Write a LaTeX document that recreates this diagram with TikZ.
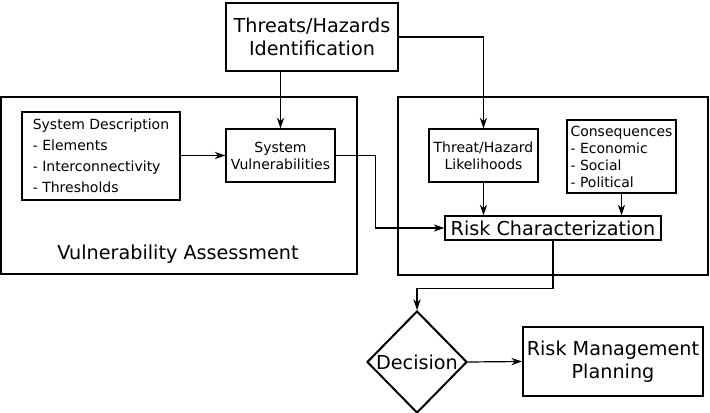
\documentclass[tikz,border=0pt]{standalone}
\usepackage{fontspec}
\setmainfont{DejaVu Sans}
\usetikzlibrary{arrows.meta,shapes.geometric,calc}

\begin{document}
\begin{tikzpicture}[x=0.75pt,y=-0.75pt,
big/.style={font=\fontsize{14.4}{17}\selectfont},
small/.style={font=\fontsize{10.5}{12.75}\selectfont},
box/.style={draw,line width=1pt,small,inner sep=0pt,align=center},
thick box/.style={draw,line width=1.7pt,big,inner sep=0pt,align=center},
arr/.style={line width=0.9pt,-{Stealth[length=8pt,width=5.5pt]}}]
\useasboundingbox (0,0) rectangle (710,413);

\node[thick box,minimum width=267pt,minimum height=132.75pt] (va) at (179,185.5) {};
\node[thick box,minimum width=232.5pt,minimum height=133.5pt] (ra) at (553,186) {};
\node[big] (valabel) at (178,254) {Vulnerability Assessment};

\node[thick box,line width=1.5pt,minimum width=129pt,minimum height=51pt] (threats) at (312,37) {Threats/Hazards\\Identification};

\node[box,align=left,font=\fontsize{10.5}{15.75}\selectfont,minimum width=118.5pt,minimum height=66pt] (sysdesc) at (101,156)
 {System Description\\- Elements\\- Interconnectivity\\- Thresholds};
\node[box,minimum width=81.75pt,minimum height=39.75pt] (sysvul) at (280.5,155.5) {System\\Vulnerabilities};
\node[box,minimum width=81.75pt,minimum height=39.75pt] (lik) at (483.5,155.5) {Threat/Hazard\\Likelihoods};
\node[box,align=left,minimum width=81.75pt,minimum height=54.75pt] (cons) at (621.5,156.5)
 {Consequences\\- Economic\\- Social\\- Political};
\node[box,big,minimum width=162pt,minimum height=18pt] (riskchar) at (553,228) {Risk Characterization};

\node[draw,diamond,line width=1.5pt,big,inner sep=0pt,minimum width=75pt,minimum height=76.5pt] (decision) at (417,362) {Decision};
\node[thick box,line width=1.5pt,minimum width=135pt,minimum height=51.75pt] (rmp) at (613,361.5) {Risk Management\\Planning};

% connectors
\draw[arr] (threats.east) -| (lik.north);
\draw[arr] (threats.south -| sysvul.north) -- (sysvul.north);
\draw[arr] (sysdesc.east |- sysvul.west) -- (sysvul.west);
\draw[arr] (sysvul.east) -- ++(40,0) |- (riskchar.west);
\draw[arr] (lik.south) -- (lik.south |- riskchar.north);
\draw[arr] (cons.south) -- (cons.south |- riskchar.north);
\draw[arr] (riskchar.south) -- ++(0,48) -| (decision.north);
\draw[arr] (decision.east) -- (rmp.west);
\end{tikzpicture}
\end{document}
